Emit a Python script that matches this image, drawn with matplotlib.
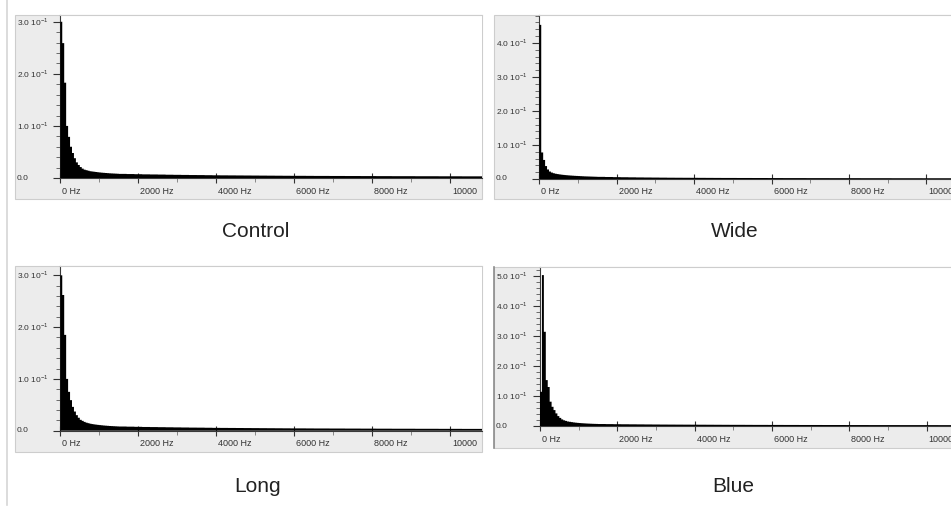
import numpy as np
import matplotlib
matplotlib.use("Agg")
import matplotlib.pyplot as plt
from matplotlib.patches import Rectangle
from matplotlib.lines import Line2D

plt.rcParams['font.family'] = ['Liberation Sans', 'DejaVu Sans']
plt.rcParams['mathtext.fontset'] = 'custom'
plt.rcParams['mathtext.rm'] = 'Liberation Sans'

# --- data ---
titles = ['Control', 'Wide', 'Long', 'Blue']
xtick_hz = [0, 2000, 4000, 6000, 8000, 10000]
xtick_labels = ['0 Hz', '2000 Hz', '4000 Hz', '6000 Hz', '8000 Hz', '10000']
head_bin_hz = 50       # narrow bins near 0 Hz
tail_bin_hz = 200      # coarser bins for the flat tail
tail_start_hz = 1500
xmax_hz = 10813

control_head = [0.300, 0.259, 0.183, 0.100, 0.079, 0.060, 0.048, 0.038, 0.030, 0.025,
                0.021, 0.018, 0.016, 0.015, 0.014, 0.013, 0.0125, 0.012, 0.0115, 0.011,
                0.0106, 0.0102, 0.0099, 0.0096, 0.0093, 0.0090, 0.0088, 0.0086, 0.0084, 0.0082]
control_tail = [0.0079, 0.0076, 0.0073, 0.0070, 0.0068, 0.0066, 0.0063, 0.0061, 0.0059, 0.0057,
                0.0056, 0.0054, 0.0052, 0.0051, 0.0050, 0.0049, 0.0048, 0.0047, 0.0046, 0.0045,
                0.0044, 0.0043, 0.0042, 0.0042, 0.0041, 0.0040, 0.0040, 0.0039, 0.0039, 0.0038,
                0.0038, 0.0037, 0.0037, 0.0036, 0.0036, 0.0035, 0.0035, 0.0035, 0.0034, 0.0034,
                0.0034, 0.0033, 0.0033, 0.0033, 0.0032, 0.0032, 0.0032]

wide_head = [0.453, 0.078, 0.056, 0.038, 0.028, 0.022, 0.019, 0.017, 0.0155, 0.0145,
             0.0136, 0.0128, 0.0121, 0.0115, 0.0110, 0.0105, 0.0101, 0.0097, 0.0093, 0.0090,
             0.0087, 0.0084, 0.0081, 0.0078, 0.0076, 0.0074, 0.0072, 0.0070, 0.0068, 0.0066]
wide_tail = [0.0063, 0.0059, 0.0055, 0.0052, 0.0049, 0.0046, 0.0044, 0.0042, 0.0040, 0.0038,
             0.0037, 0.0036, 0.0035, 0.0034, 0.0033, 0.0032, 0.0031, 0.0031, 0.0030, 0.0030,
             0.0029, 0.0029, 0.0028, 0.0028, 0.0027, 0.0027, 0.0027, 0.0026, 0.0026, 0.0026,
             0.0025, 0.0025, 0.0025, 0.0025, 0.0024, 0.0024, 0.0024, 0.0024, 0.0023, 0.0023,
             0.0023, 0.0023, 0.0022, 0.0022, 0.0022, 0.0022, 0.0022]

long_head = [0.300, 0.262, 0.185, 0.100, 0.075, 0.059, 0.046, 0.037, 0.030, 0.025,
             0.021, 0.019, 0.017, 0.0155, 0.0145, 0.0135, 0.0128, 0.0122, 0.0117, 0.0112,
             0.0108, 0.0104, 0.0100, 0.0097, 0.0094, 0.0091, 0.0089, 0.0087, 0.0085, 0.0083]
long_tail = [0.0081, 0.0078, 0.0075, 0.0072, 0.0070, 0.0068, 0.0066, 0.0064, 0.0062, 0.0060,
             0.0059, 0.0057, 0.0055, 0.0054, 0.0053, 0.0052, 0.0051, 0.0050, 0.0049, 0.0048,
             0.0047, 0.0046, 0.0045, 0.0045, 0.0044, 0.0043, 0.0043, 0.0042, 0.0042, 0.0041,
             0.0041, 0.0040, 0.0040, 0.0039, 0.0039, 0.0038, 0.0038, 0.0038, 0.0037, 0.0037,
             0.0037, 0.0036, 0.0036, 0.0036, 0.0035, 0.0035, 0.0035]

blue_head = [0.114, 0.503, 0.314, 0.153, 0.130, 0.081, 0.064, 0.053, 0.042, 0.033,
             0.027, 0.022, 0.019, 0.017, 0.015, 0.014, 0.013, 0.012, 0.0112, 0.0105,
             0.0099, 0.0094, 0.0090, 0.0086, 0.0082, 0.0079, 0.0076, 0.0073, 0.0071, 0.0069]
blue_tail = [0.0066, 0.0063, 0.0060, 0.0058, 0.0056, 0.0054, 0.0052, 0.0050, 0.0048, 0.0047,
             0.0046, 0.0045, 0.0044, 0.0043, 0.0042, 0.0041, 0.0040, 0.0039, 0.0039, 0.0038,
             0.0037, 0.0037, 0.0036, 0.0036, 0.0035, 0.0035, 0.0034, 0.0034, 0.0034, 0.0033,
             0.0033, 0.0033, 0.0032, 0.0032, 0.0032, 0.0031, 0.0031, 0.0031, 0.0031, 0.0030,
             0.0030, 0.0030, 0.0030, 0.0030, 0.0029, 0.0029, 0.0029]

control_yticks = [0.0, 0.1, 0.2, 0.3]
wide_yticks = [0.0, 0.1, 0.2, 0.3, 0.4]
long_yticks = [0.0, 0.1, 0.2, 0.3]
blue_yticks = [0.0, 0.1, 0.2, 0.3, 0.4, 0.5]

# --- layout, in screenshot pixels (top-left origin) ---
W, H = 951, 508
fig = plt.figure(figsize=(W / 100, H / 100), dpi=100)


def fx(px):
    return px / W


def fy(py):
    return 1 - py / H


def panel(box, plot, ymax, head, tail, yticks, title, title_xy):
    bx0, by0, bx1, by1 = box
    fig.add_artist(Rectangle((fx(bx0), fy(by1)), (bx1 - bx0) / W, (by1 - by0) / H,
                             transform=fig.transFigure, facecolor='#ececec',
                             edgecolor='#cdcdcd', lw=0.8, zorder=-1))
    px0, py0, px1, py1 = plot
    ax = fig.add_axes([fx(px0), fy(py1), (px1 - px0) / W, (py1 - py0) / H])
    ax.set_facecolor('white')

    edges = np.concatenate([np.arange(len(head)) * head_bin_hz,
                            tail_start_hz + np.arange(len(tail) + 1) * tail_bin_hz])
    st = ax.stairs(np.concatenate([head, tail]), edges, fill=True, color='black', lw=0,
                   zorder=3)
    st.set_snap(False)

    ax.set_xlim(0, xmax_hz)
    ax.set_ylim(0, ymax)
    ax.spines['right'].set_visible(False)
    ax.spines['top'].set_color('#cdcdcd')
    ax.spines['top'].set_linewidth(0.8)
    for s in ['left', 'bottom']:
        ax.spines[s].set_color('#3a3a3a')
        ax.spines[s].set_linewidth(0.8)

    ax.set_yticks(yticks)
    ax.set_yticks(np.arange(0, ymax, 0.02), minor=True)
    ax.set_xticks(xtick_hz)
    ax.set_xticks(np.arange(1000, xmax_hz, 2000), minor=True)
    ax.tick_params(axis='y', which='major', direction='out', length=5, width=0.8,
                   color='#333333', labelleft=False)
    ax.tick_params(axis='y', which='minor', direction='out', length=3, width=0.6,
                   color='#555555')
    ax.tick_params(axis='x', which='major', direction='inout', length=7, width=0.8,
                   color='#333333', labelbottom=False)
    ax.tick_params(axis='x', which='minor', direction='out', length=3, width=0.6,
                   color='#777777')

    # y labels are left-aligned at the edge of the grey strip
    for v in yticks:
        lab = '0.0' if v == 0 else f'{v * 10:.1f} 10$^{{-1}}$'
        ax.annotate(lab, xy=(0, v), xycoords=('axes fraction', 'data'),
                    xytext=(-(px0 - bx0 - 2), 0), textcoords='offset pixels',
                    ha='left', va='center', fontsize=6, color='#333333')
    # x labels sit just right of their tick
    for v, lab in zip(xtick_hz, xtick_labels):
        ax.annotate(lab, xy=(v, 0), xycoords=('data', 'axes fraction'),
                    xytext=(2, -13), textcoords='offset pixels',
                    ha='left', va='center', fontsize=6.5, color='#333333')

    fig.text(fx(title_xy[0]), fy(title_xy[1]), title, ha='center', va='center',
             fontsize=15, color='#222222')
    return ax


panel((15, 15, 482, 199), (60.3, 15, 482, 178), 0.313,
      control_head, control_tail, control_yticks, titles[0], (256, 231))
panel((494, 15, 962, 199), (539.3, 15, 957.8, 179), 0.482,
      wide_head, wide_tail, wide_yticks, titles[1], (735, 231))
panel((15, 266, 482, 452), (60.3, 266, 482, 430.7), 0.318,
      long_head, long_tail, long_yticks, titles[2], (258, 487))
panel((494, 267, 962, 448), (540, 267, 958, 426), 0.53,
      blue_head, blue_tail, blue_yticks, titles[3], (733, 487))

# thin page edge on the left and the darker edge of the last panel
fig.add_artist(Line2D([fx(6.5), fx(6.5)], [fy(0), fy(505)], transform=fig.transFigure,
                      color='#d6d6d6', lw=1.2))
fig.add_artist(Line2D([fx(494), fx(494)], [fy(267), fy(448)], transform=fig.transFigure,
                      color='#8c8c8c', lw=1.2))

fig.savefig('out.png', dpi=100)
